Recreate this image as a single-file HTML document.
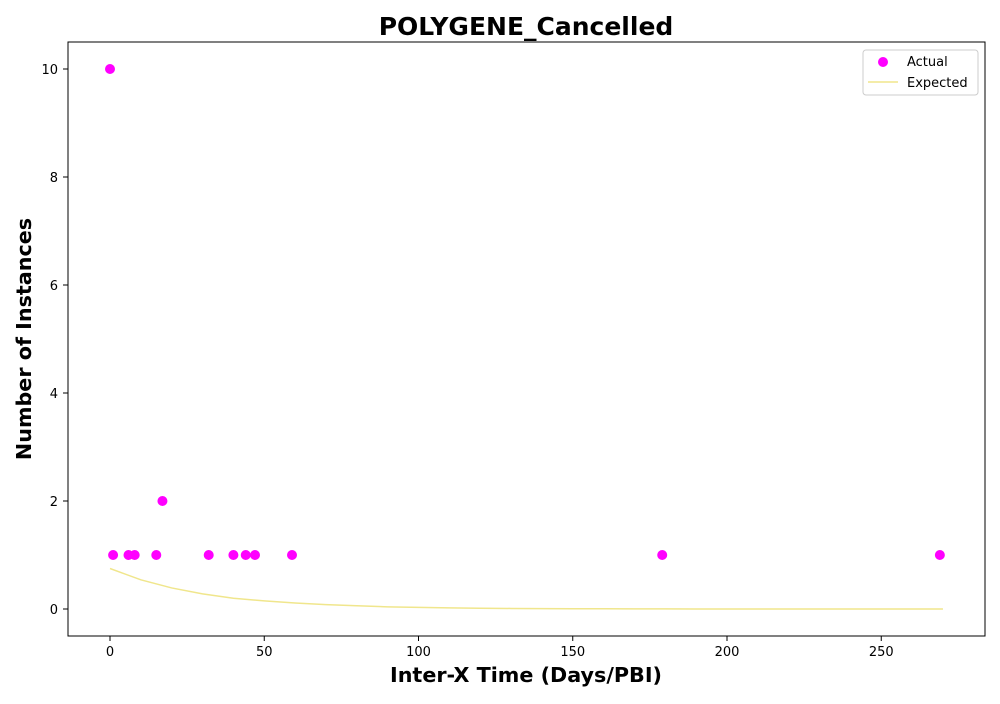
<!DOCTYPE html>
<html><head><meta charset="utf-8"><style>
body{margin:0;background:#fff;font-family:"DejaVu Sans","Liberation Sans",sans-serif}
svg text{font-family:"DejaVu Sans","Liberation Sans",sans-serif}
</style></head><body>
<svg id="chart" width="1000" height="700">
<rect width="1000" height="700" fill="#fff"/>
<text x="526" y="35" text-anchor="middle" font-size="25" font-weight="bold">POLYGENE_Cancelled</text>
<g id="plot"></g>
<rect x="68" y="42" width="917" height="594" fill="none" stroke="#000" stroke-width="1"/>
<text x="526" y="682" text-anchor="middle" font-size="20.7" font-weight="bold">Inter-X Time (Days/PBI)</text>
<text transform="translate(31,339) rotate(-90)" text-anchor="middle" font-size="20.7" font-weight="bold">Number of Instances</text>
<g>
<rect x="863" y="50" width="115" height="45" rx="3" fill="#fff" stroke="#ccc"/>
<circle cx="883" cy="62" r="5" fill="#ff00ff"/>
<text x="907" y="66" font-size="13">Actual</text>
<line x1="868" y1="82" x2="898" y2="82" stroke="#f0e68c" stroke-width="1.5"/>
<text x="907" y="87" font-size="13">Expected</text>
</g>
</svg>
<script>
const actualX=[0,1,6,8,15,17,32,40,44,47,59,179,269];
const actualY=[10,1,1,1,1,2,1,1,1,1,1,1,1];
const expectedX=[0,10,20,30,40,50,60,70,80,90,100,110,120,130,140,150,160,170,180,190,200,210,220,230,240,250,260,270];
const expectedY=[0.75,0.54,0.39,0.28,0.2,0.15,0.11,0.08,0.06,0.04,0.03,0.02,0.015,0.01,0.008,0.005,0.004,0.003,0.002,0.001,0,0,0,0,0,0,0,0];
const xTicks=[0,50,100,150,200,250];
const yTicks=[0,2,4,6,8,10];
const NS="http://www.w3.org/2000/svg";
const g=document.getElementById('plot');
function sx(v){return 110+v*3.085;}
function sy(v){return 609-v*54;}
function el(t,a){const e=document.createElementNS(NS,t);for(const k in a)e.setAttribute(k,a[k]);g.appendChild(e);return e;}
xTicks.forEach(t=>{
 const l=el('line',{x1:sx(t),x2:sx(t),y1:636,y2:641,stroke:'#000'});
 
 
 const tx=el('text',{x:sx(t),y:656,'text-anchor':'middle','font-size':13});
 tx.textContent=t;
 
 
});
yTicks.forEach(t=>{
 const l=el('line',{x1:63,x2:68,y1:sy(t),y2:sy(t),stroke:'#000'});
 
 
 const tx=el('text',{x:58,y:sy(t)+5,'text-anchor':'end','font-size':13});
 tx.textContent=t;
 
 
});
const pts=expectedX.map((x,i)=>sx(x)+','+sy(expectedY[i])).join(' ');
const pl=el('polyline',{points:pts,fill:'none',stroke:'#f0e68c','stroke-width':1.5});


actualX.forEach((x,i)=>{
 const c=el('circle',{cx:sx(x),cy:sy(actualY[i]),r:5,fill:'#ff00ff'});
 
 
});
</script>
</body></html>
